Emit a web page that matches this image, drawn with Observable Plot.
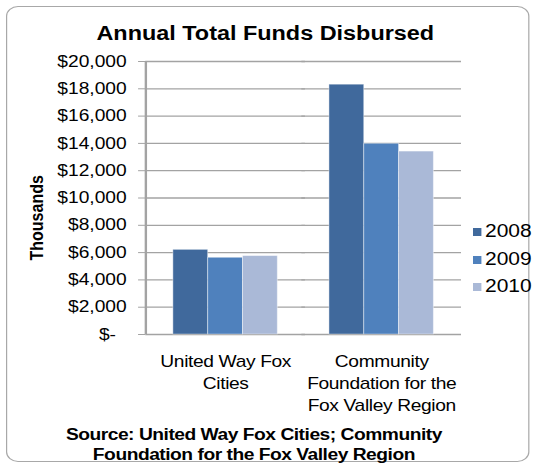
<!DOCTYPE html>
<html><head><meta charset="utf-8">
<script src="https://cdn.jsdelivr.net/npm/d3@7"></script>
<script src="https://cdn.jsdelivr.net/npm/@observablehq/plot@0.6"></script>
<style>
html,body{margin:0;padding:0;background:#fff;overflow:hidden;}
#wrap{position:relative;width:444px;height:466px;transform:scaleX(1.2005);transform-origin:0 0;font-family:"Liberation Sans",Arial,sans-serif;color:#000;}
#border{position:absolute;left:5px;top:6px;width:436px;height:456px;border:1px solid #a8a8a8;border-radius:10px;box-sizing:border-box;}
#title{position:absolute;left:0;top:20.5px;width:442px;text-align:center;font-weight:bold;font-size:19.5px;line-height:24px;}
#chart{position:absolute;left:0;top:45px;}
#ylabel{position:absolute;left:-11.6px;top:209.5px;width:85px;height:16px;text-align:center;font-weight:bold;font-size:16px;line-height:16px;transform:rotate(-90deg);transform-origin:50% 50%;white-space:nowrap;}
#caption{position:absolute;left:0;top:424.5px;width:423px;text-align:center;font-weight:bold;font-size:16px;line-height:20px;letter-spacing:-0.4px;}
.lg{position:absolute;font-size:17.5px;line-height:20px;}
.sw{position:absolute;width:6.7px;height:8px;}
g[aria-label="fx-axis tick label"] text{letter-spacing:-0.3px;}
</style></head><body>
<div id="wrap">
  <div id="border"></div>
  <div id="title">Annual Total Funds Disbursed</div>
  <div id="chart"></div>
  <div id="ylabel">Thousands</div>
  <div id="legend"></div>
  <div id="caption">Source: United Way Fox Cities; Community<br>Foundation for the Fox Valley Region</div>
</div>
<script>
const categories = ["United Way Fox Cities", "Community Foundation for the Fox Valley Region"];
const categoryLabels = ["United Way Fox\nCities", "Community\nFoundation for the\nFox Valley Region"];
const years = ["2008", "2009", "2010"];
const values2008 = [6200, 18300];
const values2009 = [5620, 13970];
const values2010 = [5740, 13400];
const yTicks = [0, 2000, 4000, 6000, 8000, 10000, 12000, 14000, 16000, 18000, 20000];
const yTickLabels = ["$-\u00a0\u00a0", "$2,000", "$4,000", "$6,000", "$8,000", "$10,000", "$12,000", "$14,000", "$16,000", "$18,000", "$20,000"];
const colors = ["#40699C", "#4F81BD", "#AAB9D7"];

const series = [values2008, values2009, values2010];
const data = [];
categories.forEach((c, i) => years.forEach((y, j) => data.push({category: c, year: y, value: series[j][i]})));

const chart = Plot.plot({
  width: 444, height: 390,
  marginTop: 16, marginBottom: 101, marginLeft: 121, marginRight: 60,
  style: {fontFamily: '"Liberation Sans", Arial, sans-serif', fontSize: "16px", color: "#000", background: "transparent", overflow: "visible"},
  fx: {domain: categories, paddingInner: 0.33, paddingOuter: 0.17, label: null},
  x: {domain: years, padding: 0, axis: null},
  y: {domain: [0, 20000], label: null},
  color: {domain: years, range: colors},
  marks: [
    Plot.ruleY(yTicks, {stroke: "#a3a3a3", strokeWidth: 1.3, insetLeft: -23, insetRight: -23}),
    Plot.barY(data, {fx: "category", x: "year", y: "value", fill: "year", stroke: "#ffffff", strokeOpacity: 0.45, strokeWidth: 0.8}),
    Plot.ruleX([categories[0]], {fx: d => d, x: null, y1: 0, y2: 20000, dx: -66.5, stroke: "#a3a3a3", strokeWidth: 2}),
    Plot.axisY({ticks: yTicks, tickFormat: d => yTickLabels[yTicks.indexOf(d)], tickSize: 6, tickPadding: 10, stroke: "#a3a3a3", fill: "#000", fontSize: 16, label: null, dx: -23}),
    Plot.axisFx({anchor: "bottom", tickSize: 0, tickPadding: 17, fontSize: 16, lineHeight: 1.375, fill: "#000", tickFormat: d => categoryLabels[categories.indexOf(d)], label: null})
  ]
});
document.getElementById("chart").appendChild(chart);

const legend = document.getElementById("legend");
const rowCenters = [230, 258, 285];
years.forEach((y, i) => {
  const sw = document.createElement("div");
  sw.className = "sw";
  sw.style.left = "394px";
  sw.style.top = (rowCenters[i] + 2 - 4) + "px";
  sw.style.background = colors[i];
  legend.appendChild(sw);
  const t = document.createElement("div");
  t.className = "lg";
  t.style.left = "404px";
  t.style.top = (rowCenters[i] - 9.5) + "px";
  t.textContent = y;
  legend.appendChild(t);
});
</script>
</body></html>
